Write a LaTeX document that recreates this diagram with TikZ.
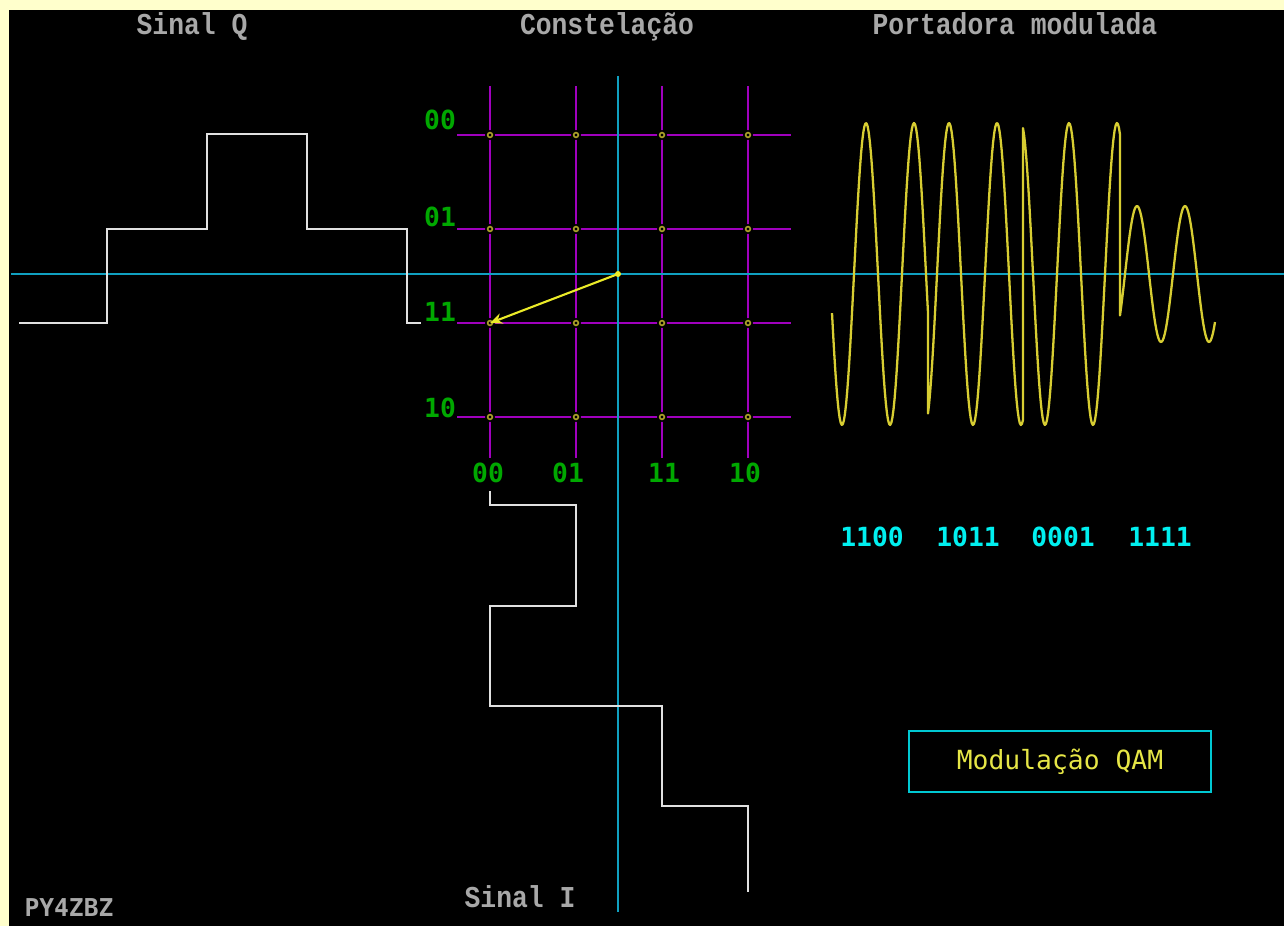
\documentclass[tikz,border=0pt]{standalone}
\usepackage{fontspec}
\usetikzlibrary{arrows.meta}
\newfontfamily\titlefont{Liberation Mono}
\newfontfamily\dosfont{DejaVu Sans Mono}
\definecolor{bord}{RGB}{255,255,204}
\definecolor{axiscol}{RGB}{16,160,192}
\definecolor{gridcol}{RGB}{160,0,190}
\definecolor{lblgreen}{RGB}{0,168,0}
\definecolor{wavecol}{RGB}{215,205,50}
\definecolor{arrowcol}{RGB}{235,235,40}
\definecolor{dotcol}{RGB}{170,160,40}
\definecolor{sigwhite}{RGB}{225,225,225}
\definecolor{titlegray}{RGB}{168,168,168}
\definecolor{bitcyan}{RGB}{0,240,240}
\definecolor{boxcyan}{RGB}{0,200,210}
\definecolor{qamyellow}{RGB}{230,230,70}
\begin{document}
\begin{tikzpicture}[x=0.02cm,y=-0.02cm,
  title/.style={text=titlegray,font=\titlefont\fontsize{15}{18}\selectfont\bfseries,inner sep=0pt,anchor=base,yscale=1.15},
  lbl/.style={text=lblgreen,font=\dosfont\fontsize{15}{18}\selectfont\bfseries,inner sep=0pt},
  bits/.style={text=bitcyan,font=\dosfont\fontsize{15}{18}\selectfont\bfseries,inner sep=0pt},
  author/.style={text=titlegray,font=\dosfont\fontsize{14}{17}\selectfont\bfseries,inner sep=0pt},
  qambox/.style={draw=boxcyan,line width=1.3pt,text=qamyellow,font=\dosfont\fontsize{15}{18}\selectfont,
    minimum width=6.04cm,minimum height=1.22cm,inner sep=0pt},
  axisline/.style={draw=axiscol,line width=1.3pt},
  gridline/.style={draw=gridcol,line width=1.3pt},
  sig/.style={draw=sigwhite,line width=1.3pt,line join=miter},
  carrier/.style={draw=wavecol,line width=1.3pt,line join=round},
  vecarrow/.style={draw=arrowcol,line width=1.2pt,-{Stealth[length=7pt,width=6pt]}},
]
\useasboundingbox (0,0) rectangle (1284,926);
\fill[bord] (0,0) rectangle (1284,926);
\fill[black] (9,10) rectangle (1284,926);

% constellation grid
\foreach \gx in {490,576,662,748} \draw[gridline] (\gx,86) -- (\gx,458);
\foreach \gy in {135,229,323,417} \draw[gridline] (457,\gy) -- (791,\gy);
\foreach \gx in {490,576,662,748} {
  \foreach \gy in {135,229,323,417} {
    \fill[black] (\gx,\gy) circle[radius=5];
    \draw[dotcol,line width=0.9pt] (\gx,\gy) circle[radius=2.4];
  }
}

% axes
\draw[axisline] (11,274) -- (1284,274);
\draw[axisline] (618,76) -- (618,912);

% Q signal
\draw[sig] (19,323) -- (107,323) -- (107,229) -- (207,229) -- (207,134) -- (307,134)
  -- (307,229) -- (407,229) -- (407,323) -- (421,323);

% I signal
\draw[sig] (490,491) -- (490,505) -- (576,505) -- (576,606) -- (490,606) -- (490,706)
  -- (662,706) -- (662,806) -- (748,806) -- (748,892);

% vector
\coordinate (origin) at (618,274);
\coordinate (sym) at (490,323);
\draw[vecarrow] (origin) -- (sym);
\fill[arrowcol] (origin) circle[radius=3];

% modulated carrier
\draw[carrier] plot[domain=832:928,samples=90] (\x,{274-151*cos(7.5*(\x-866))})
  -- plot[domain=928:1023,samples=90] (\x,{274-151*cos(7.5*(\x-949))})
  -- plot[domain=1023:1120,samples=90] (\x,{274-151*cos(7.5*(\x-1069))})
  -- plot[domain=1120:1215,samples=90] (\x,{274-68*cos(7.5*(\x-1137))});

% labels
\node[lbl] (q00) at (440,120) {00};
\node[lbl] (q01) at (440,217) {01};
\node[lbl] (q11) at (440,312) {11};
\node[lbl] (q10) at (440,408) {10};
\node[lbl] (i00) at (488,473) {00};
\node[lbl] (i01) at (568,473) {01};
\node[lbl] (i11) at (664,473) {11};
\node[lbl] (i10) at (745,473) {10};

% titles
\node[title] (tq) at (192,35) {Sinal Q};
\node[title] (tc) at (607,35) {Constelação};
\node[title] (tp) at (1015,35) {Portadora modulada};
\node[title] (ti) at (520,907) {Sinal I};
\node[author] (au) at (69,908) {PY4ZBZ};

% bits
\node[bits] (b1) at (872,537) {1100};
\node[bits] (b2) at (968,537) {1011};
\node[bits] (b3) at (1063,537) {0001};
\node[bits] (b4) at (1160,537) {1111};

% box
\node[qambox] (qam) at (1060,761.5) {Modulação QAM};
\end{tikzpicture}
\end{document}
